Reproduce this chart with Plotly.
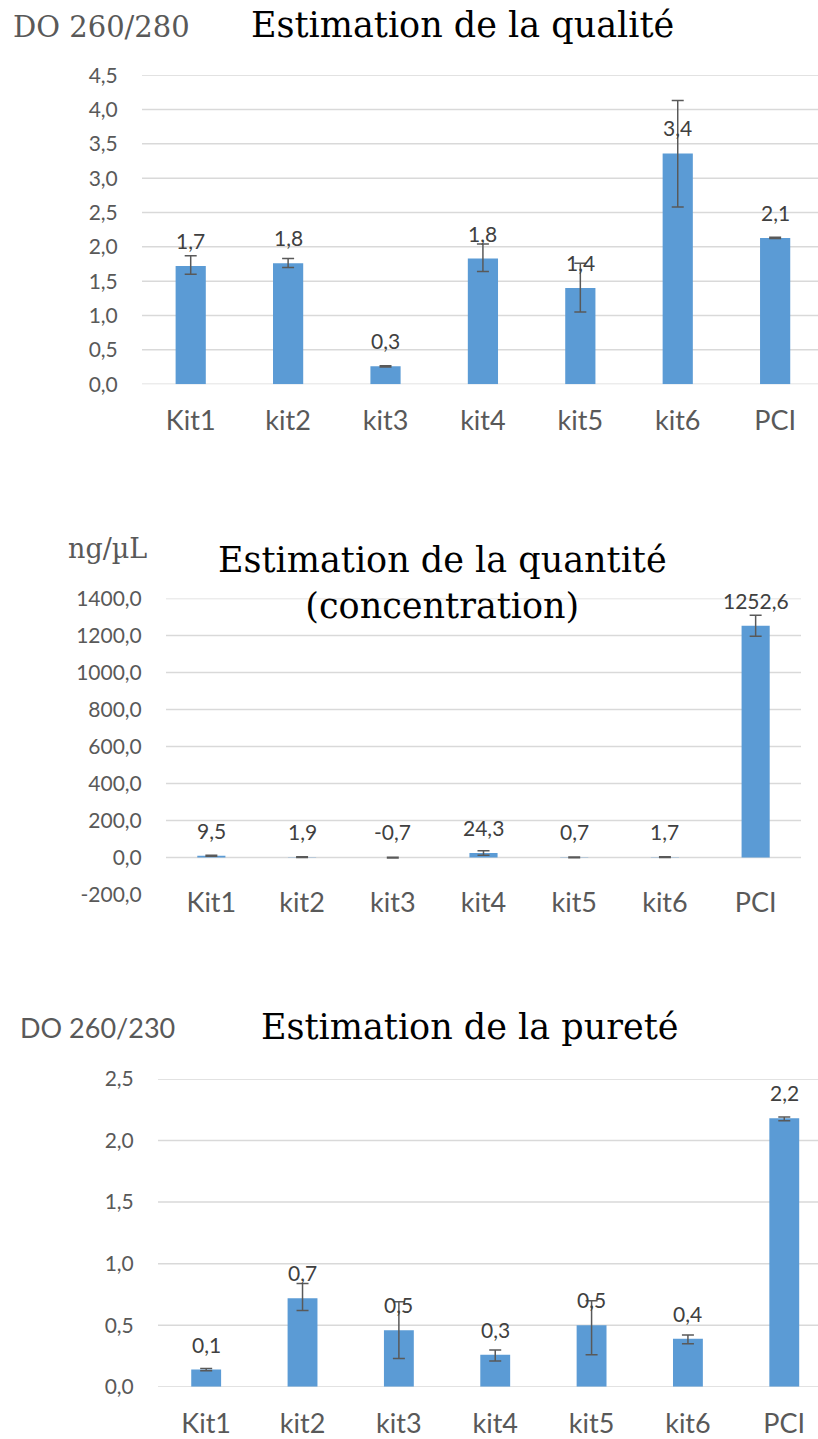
import plotly.graph_objects as go

categories = ["Kit1", "kit2", "kit3", "kit4", "kit5", "kit6", "PCI"]

# Chart 1: DO 260/280
qual_values = [1.72, 1.76, 0.26, 1.83, 1.40, 3.36, 2.13]
qual_err_plus = [0.15, 0.07, 0.01, 0.21, 0.36, 0.77, 0.01]
qual_err_minus = [0.12, 0.06, 0.01, 0.19, 0.35, 0.78, 0.01]
qual_ticks = [0.0, 0.5, 1.0, 1.5, 2.0, 2.5, 3.0, 3.5, 4.0, 4.5]

# Chart 2: concentration ng/µL
conc_values = [9.5, 1.9, -0.7, 24.3, 0.7, 1.7, 1252.6]
conc_err = [3.0, 2.0, 1.5, 12.0, 1.5, 2.0, 57.0]
conc_ticks = [-200, 0, 200, 400, 600, 800, 1000, 1200, 1400]

# Chart 3: DO 260/230
pur_values = [0.14, 0.72, 0.46, 0.26, 0.50, 0.39, 2.18]
pur_err_plus = [0.01, 0.12, 0.23, 0.04, 0.20, 0.03, 0.01]
pur_err_minus = [0.01, 0.10, 0.23, 0.05, 0.24, 0.04, 0.02]
pur_ticks = [0.0, 0.5, 1.0, 1.5, 2.0, 2.5]

BAR = "#5B9BD5"
ERR = "#595959"
GRID = "#D9D9D9"
TXT = "#595959"
W, H = 818, 1439
SANS = "Lato"
SERIF = "DejaVu Serif"
VS = 0.9796  # vertical correction for the photographed page
VO = 13.6


def fmt(v):
    return f"{v:.1f}".replace(".", ",")


def py(px):
    """paper y fraction for a target pixel row in the photographed picture"""
    return 1 - ((px - VO) / VS) / H


fig = go.Figure()

charts = [
    dict(vals=qual_values, ep=qual_err_plus, em=qual_err_minus, ticks=qual_ticks,
         xd=[142 / W, 1.0], yd=[py(385), py(75)], xr=[-0.5, 6.44], yr=[0, 4.5],
         ax="", xpos=py(403)),
    dict(vals=conc_values, ep=conc_err, em=conc_err, ticks=conc_ticks,
         xd=[166 / W, 801 / W], yd=[py(897), py(600)], xr=[-0.5, 6.5], yr=[-200, 1400],
         ax="2", xpos=py(886)),
    dict(vals=pur_values, ep=pur_err_plus, em=pur_err_minus, ticks=pur_ticks,
         xd=[158 / W, 1.0], yd=[py(1391), py(1082)], xr=[-0.5, 6.35], yr=[0, 2.5],
         ax="3", xpos=py(1409)),
]

for c in charts:
    ax = c["ax"]
    fig.add_trace(go.Bar(
        x=categories, y=c["vals"], marker_color=BAR, marker_line_width=0,
        error_y=dict(type="data", symmetric=False, array=c["ep"], arrayminus=c["em"],
                     color=ERR, thickness=1.5, width=6),
        xaxis="x" + ax, yaxis="y" + ax, showlegend=False, hoverinfo="skip",
    ))
    fig.update_layout(**{
        "xaxis" + ax: dict(domain=c["xd"], range=c["xr"], anchor="free", position=c["xpos"],
                           showgrid=False, showline=False, zeroline=False,
                           ticks="", tickfont=dict(family=SANS, size=27, color=TXT),
                           fixedrange=True),
        "yaxis" + ax: dict(domain=c["yd"], range=c["yr"], anchor="x" + ax,
                           tickvals=c["ticks"], ticktext=[fmt(t) for t in c["ticks"]],
                           showgrid=False, zeroline=False, showline=False,
                           ticks="outside", ticklen=19, tickcolor="rgba(0,0,0,0)",
                           tickfont=dict(family=SANS, size=21, color=TXT),
                           fixedrange=True),
    })
    # horizontal gridlines (the reference draws none at the bottom -200 tick of chart 2)
    grid_ticks = c["ticks"][1:] if ax == "2" else c["ticks"]
    for t in grid_ticks:
        fig.add_shape(type="line", xref="x" + ax + " domain", yref="y" + ax, x0=0, x1=1,
                      y0=t, y1=t, line=dict(color=GRID, width=1.5), layer="below")
    for cat, v in zip(categories, c["vals"]):
        fig.add_annotation(x=cat, y=max(v, 0), xref="x" + ax, yref="y" + ax,
                           text=fmt(v), showarrow=False, yanchor="middle", yshift=25.5,
                           font=dict(family=SANS, size=21, color="#404040"))


# Titles and axis captions
def note(x, y, text, family, size, color, xanchor="center"):
    fig.add_annotation(x=x / W, y=py(y), xref="paper", yref="paper", text=text,
                       showarrow=False, xanchor=xanchor, yanchor="middle",
                       font=dict(family=family, size=size, color=color))


note(462, 25, "Estimation de la qualité", SERIF, 35, "black")
note(11, 27, "DO 260/280", SERIF, 29, TXT, "left")
note(442, 584, "Estimation de la quantité<br>(concentration)", SERIF, 35, "black")
note(107, 550, "ng/µL", SERIF, 27, TXT)
note(469, 1030, "Estimation de la pureté", SERIF, 35, "black")
note(18, 1030, "DO 260/230", SANS, 27, TXT, "left")

fig.update_layout(
    width=W, height=H, margin=dict(l=0, r=0, t=0, b=0),
    paper_bgcolor="white", plot_bgcolor="white",
    bargap=0.69, showlegend=False,
)

fig.write_html(
    "out.html",
    config={"displayModeBar": False, "staticPlot": True},
    post_script="document.body.style.margin='0';document.body.style.overflow='hidden';",
)
